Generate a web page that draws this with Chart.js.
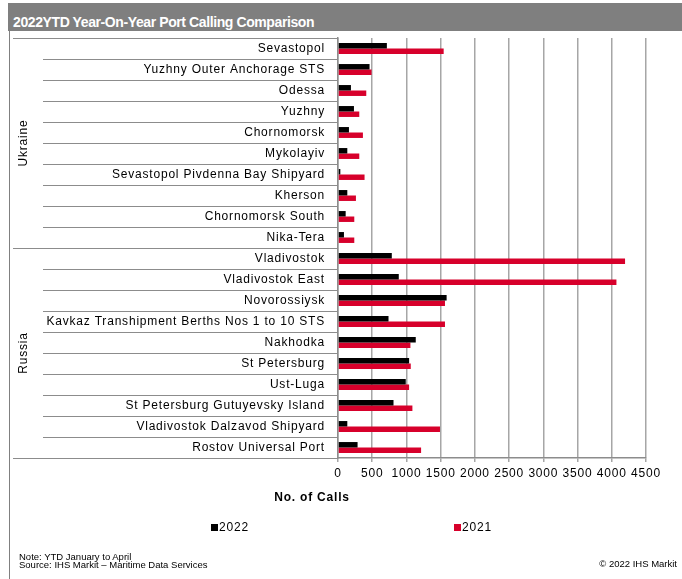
<!DOCTYPE html>
<html>
<head>
<meta charset="utf-8">
<script src="https://cdn.jsdelivr.net/npm/chart.js@4.4.1/dist/chart.umd.min.js"></script>
<style>
  body { margin: 0; background: #fff; font-family: "Liberation Sans", Arial, sans-serif; }
  #wrap { position: relative; width: 682px; height: 579px; overflow: hidden; }
  #chart { position: absolute; left: 0; top: 0; }
  #titleBar { position: absolute; left: 8px; top: 3px; width: 674px; height: 28px; background: #7f7f7f; }
  #titleBar span { position: absolute; left: 5px; top: 11px; line-height: 16px; color: #fff;
    font-weight: bold; font-size: 14px; letter-spacing: -0.4px; white-space: nowrap; }
  #frame { position: absolute; left: 9px; top: 31px; width: 1px; height: 548px; background: #808080; }
  .txt { position: absolute; white-space: nowrap; color: #000; }
  #axisTitle { left: 262px; width: 100px; text-align: center; top: 489px; line-height: 16px;
    font-size: 12px; font-weight: bold; letter-spacing: 0.8px; }
  .leg { position: absolute; top: 519px; line-height: 16px; font-size: 12px; letter-spacing: 0.8px; white-space: nowrap; }
  .leg i { display: inline-block; width: 7px; height: 7px; margin-right: 1px; vertical-align: 0px; }
  .foot { font-size: 9.5px; line-height: 10px; }
</style>
</head>
<body>
<div id="wrap">
  <canvas id="chart" width="682" height="579"></canvas>
  <div id="titleBar"><span>2022YTD Year-On-Year Port Calling Comparison</span></div>
  <div id="frame"></div>
  <div id="axisTitle" class="txt">No. of Calls</div>
  <div id="legend"></div>
  <div class="txt foot" style="left:19px; top:552px;">Note: YTD January to April</div>
  <div class="txt foot" style="left:19px; top:560px;">Source: IHS Markit – Maritime Data Services</div>
  <div class="txt foot" style="right:5px; top:559px;">© 2022 IHS Markit</div>
</div>
<script>
// ports, top to bottom
const ports = [
    'Sevastopol', 'Yuzhny Outer Anchorage STS', 'Odessa', 'Yuzhny', 'Chornomorsk',
    'Mykolayiv', 'Sevastopol Pivdenna Bay Shipyard', 'Kherson', 'Chornomorsk South', 'Nika-Tera',
    'Vladivostok', 'Vladivostok East', 'Novorossiysk', 'Kavkaz Transhipment Berths Nos 1 to 10 STS', 'Nakhodka',
    'St Petersburg', 'Ust-Luga', 'St Petersburg Gutuyevsky Island', 'Vladivostok Dalzavod Shipyard', 'Rostov Universal Port'
];
const countryNames = ['Ukraine', 'Russia'];
const countrySizes = [10, 10];

const calls2022 = [714, 461, 189, 233, 160, 136, 34, 136, 112, 87,
                   786, 888, 1587, 738, 1136, 1039, 990, 811, 136, 286];
const calls2021 = [1544, 490, 413, 311, 364, 311, 388, 262, 238, 238,
                   4194, 4068, 1563, 1563, 1058, 1063, 1039, 1087, 1490, 1214];

const xTicksMax = 4500;
const xTickStep = 500;

const lineGray = '#8c8c8c';

// letter spacing similar to the excel rendering
const spacingPlugin = {
    id: 'spacing',
    beforeDraw(chart) {
        chart.ctx.letterSpacing = '0.8px';
    }
};

// multi level category axis: separators + country names
const groupPlugin = {
    id: 'groupAxis',
    afterDraw(chart) {
        const ctx = chart.ctx;
        const y = chart.scales.y;
        const right = y.right - 5;
        ctx.save();
        ctx.strokeStyle = lineGray;
        ctx.lineWidth = 1;
        const groupEdges = [0];
        countrySizes.forEach(n => groupEdges.push(groupEdges[groupEdges.length - 1] + n));
        for (let i = 0; i <= ports.length; i++) {
            const py = Math.round(y.getPixelForValue(i - 0.5)) + 0.5;
            const left = groupEdges.includes(i) ? 13 : 43;
            ctx.beginPath();
            ctx.moveTo(left, py);
            ctx.lineTo(right, py);
            ctx.stroke();
        }
        ctx.fillStyle = '#000';
        ctx.font = '12px "Liberation Sans", Arial, sans-serif';
        ctx.textAlign = 'center';
        ctx.textBaseline = 'middle';
        ctx.letterSpacing = '0.8px';
        countryNames.forEach((name, g) => {
            const y0 = y.getPixelForValue(groupEdges[g] - 0.5);
            const y1 = y.getPixelForValue(groupEdges[g + 1] - 0.5);
            ctx.save();
            ctx.translate(24, (y0 + y1) / 2);
            ctx.rotate(-Math.PI / 2);
            ctx.fillText(name, 0, 0);
            ctx.restore();
        });
        ctx.restore();
    }
};

const ctx = document.getElementById('chart');
const chart = new Chart(ctx, {
    type: 'bar',
    data: {
        labels: ports,
        datasets: [
            { label: '2022', data: calls2022, backgroundColor: '#000000',
              categoryPercentage: 0.52, barPercentage: 1.0 },
            { label: '2021', data: calls2021, backgroundColor: '#d7002b',
              categoryPercentage: 0.52, barPercentage: 1.0 }
        ]
    },
    plugins: [spacingPlugin, groupPlugin],
    options: {
        indexAxis: 'y',
        responsive: false,
        animation: false,
        layout: { padding: { top: 38, right: 36, bottom: 96, left: 0 } },
        plugins: {
            legend: { display: false },
            tooltip: { enabled: false },
            title: { display: false }
        },
        scales: {
            x: {
                min: 0,
                max: xTicksMax,
                afterFit(scale) { scale.height = 25; },
                ticks: {
                    stepSize: xTickStep,
                    autoSkip: false,
                    maxRotation: 0,
                    padding: 4,
                    color: '#000',
                    font: { family: '"Liberation Sans", Arial, sans-serif', size: 12 },
                    callback: v => String(v)
                },
                grid: { color: '#a6a6a6', lineWidth: 1.5, tickLength: 4 },
                border: { color: lineGray, width: 1.5 }
            },
            y: {
                afterFit(scale) { scale.width = 338; },
                ticks: {
                    autoSkip: false,
                    padding: 8,
                    color: '#000',
                    font: { family: '"Liberation Sans", Arial, sans-serif', size: 12 }
                },
                grid: { offset: true, drawOnChartArea: false, tickLength: 5, color: lineGray, lineWidth: 1 },
                border: { color: lineGray, width: 1.5 }
            }
        }
    }
});

// legend spread like the excel one
const legendX = [211, 454];
const legendEl = document.getElementById('legend');
chart.data.datasets.forEach((ds, i) => {
    const item = document.createElement('div');
    item.className = 'leg';
    item.style.left = legendX[i] + 'px';
    item.innerHTML = '<i style="background:' + ds.backgroundColor + '"></i>' + ds.label;
    legendEl.appendChild(item);
});
</script>
</body>
</html>
